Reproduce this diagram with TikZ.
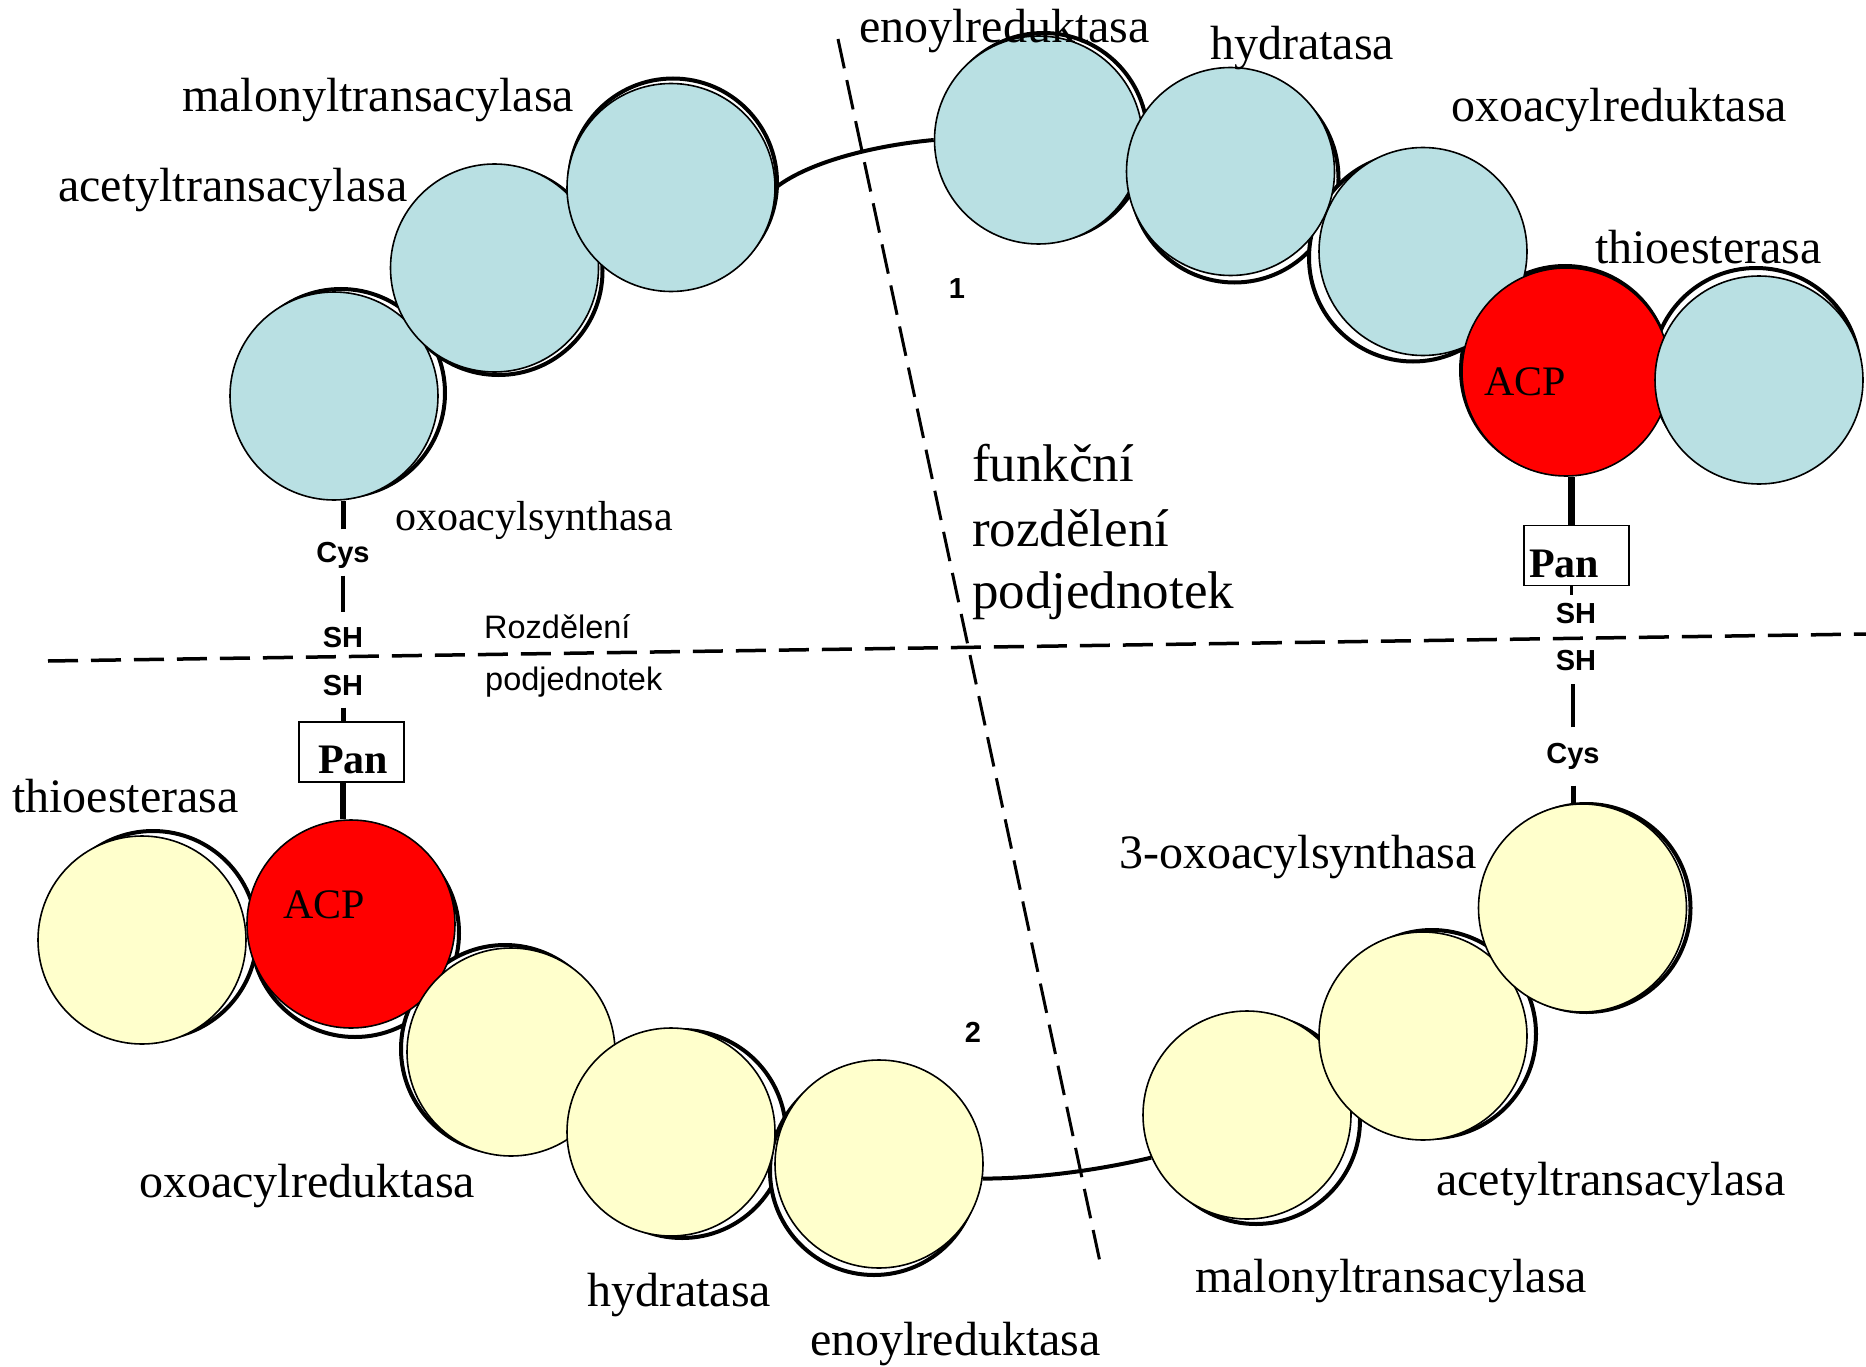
\documentclass[tikz,border=0pt]{standalone}
\usepackage{fontspec}
\setmainfont{Liberation Serif}
\newfontfamily\labsans{Liberation Sans}
\definecolor{enzblue}{RGB}{185,224,227}
\definecolor{enzyel}{RGB}{255,255,204}
\definecolor{acpred}{RGB}{255,0,0}
\tikzset{
  enz/.style={circle, minimum size=208pt, inner sep=0pt, draw=black, line width=1.6pt},
  blueenz/.style={enz, fill=enzblue},
  yelenz/.style={enz, fill=enzyel},
  acpenz/.style={enz, fill=acpred},
  shadowline/.style={draw=black, line width=4pt, fill=white},
  lab/.style={inner sep=0pt, anchor=base west, font=\fontsize{48}{58}\selectfont},
  smalllab/.style={inner sep=0pt, anchor=base west, font=\fontsize{42}{50}\selectfont},
  biglab/.style={inner sep=0pt, anchor=base west, font=\fontsize{53}{63}\selectfont},
  acplab/.style={inner sep=0pt, anchor=base west, font=\fontsize{42}{50}\selectfont},
  panbox/.style={draw=black, line width=1.5pt, fill=white, minimum width=105pt, minimum height=60pt, inner sep=0pt},
  panlab/.style={inner sep=0pt, anchor=base west, font=\fontsize{42}{50}\selectfont\bfseries},
  chemlab/.style={inner sep=0pt, anchor=center, text height=21pt, text depth=0pt, font=\fontsize{29}{33}\selectfont\labsans\bfseries},
  sanslab/.style={inner sep=0pt, anchor=base west, font=\fontsize{32.5}{38}\selectfont\labsans},
  numlab/.style={inner sep=0pt, anchor=center, text height=21pt, text depth=0pt, font=\fontsize{29}{33}\selectfont\labsans\bfseries},
  divider/.style={draw=black, line width=3.5pt, dash pattern=on 30pt off 13pt},
  linker/.style={draw=black, line width=4pt},
}
\begin{document}
\begin{tikzpicture}[x=1pt,y=-1pt]
\useasboundingbox (0,0) rectangle (1866,1367);
\fill[white] (0,0) rectangle (1866,1367);

% ---- shadows (scanned outlines) ----
\path[shadowline] (341,393) circle (104);
\path[shadowline] (498.5,271) circle (104);
\path[shadowline] (673,182.5) circle (104);
\path[shadowline] (1043.5,137) circle (104);
\path[shadowline] (1234.5,178.5) circle (104);
\path[shadowline] (1413,257.5) circle (104);
\path[shadowline] (1565,370) circle (104);
\path[shadowline] (1756,372) circle (104);

\path[shadowline] (153,935) circle (104);
\path[shadowline] (355,933) circle (104);
\path[shadowline] (505,1049) circle (104);
\path[shadowline] (682,1134) circle (104);
\path[shadowline] (874,1171) circle (104);
\path[shadowline] (1256,1120) circle (104);
\path[shadowline] (1432,1034) circle (104);
\path[shadowline] (1586.5,908) circle (104);

% ---- subunit 1 (blue) ----
\node[blueenz] (oxs1) at (334,396) {};
\node[blueenz] (ace1) at (494.5,268) {};
\node[blueenz] (mal1) at (671,187.5) {};
\node[blueenz] (eno1) at (1038.5,140) {};
\node[blueenz] (hyd1) at (1230.5,171.5) {};
\node[blueenz] (oxr1) at (1423,251.5) {};
\node[acpenz]  (acp1) at (1566,372) {};
\node[blueenz] (thi1) at (1759,380) {};

% ---- subunit 2 (yellow) ----
\node[yelenz] (thi2) at (142,940) {};
\node[acpenz] (acp2) at (351,924) {};
\node[yelenz] (oxr2) at (511,1052) {};
\node[yelenz] (hyd2) at (671,1132) {};
\node[yelenz] (eno2) at (879,1164) {};
\node[yelenz] (mal2) at (1247,1115) {};
\node[yelenz] (ace2) at (1423,1036) {};
\node[yelenz] (oxs2) at (1582.5,908) {};

% ---- connecting arcs ----
\draw[linker] (mal1.east) .. controls +(35,-27) and +(-55,5) .. (eno1.west);
\draw[linker] (eno2.-8) .. controls +(55,0) and +(-50,12) .. (mal2.204);

% ---- left chain ----
\node[chemlab] (cysL) at (343,552) {Cys};
\node[chemlab] (shL1) at (343,637) {SH};
\node[chemlab] (shL2) at (343,685) {SH};
\node[panbox] (panL) at (351.5,752) {};
\node[panlab] (panLt) at (318,773) {Pan};
\draw[line width=5pt, shorten <=12pt] (cysL.north) -- (cysL.north |- oxs1.south);
\draw[line width=4pt, shorten <=13pt, shorten >=14pt] (cysL.south) -- (shL1.north);
\draw[line width=5pt, shorten <=12pt] (shL2.south) -- (shL2.south |- panL.north);
\draw[line width=6pt] (shL2.south |- panL.south) -- (shL2.south |- acp2.north);

% ---- right chain ----
\coordinate (rch) at (1571,0);
\node[panbox] (panR) at (1576.5,555.5) {};
\node[panlab] (panRt) at (1529,577) {Pan};
\node[chemlab] (shR1) at (1576,613) {SH};
\node[chemlab] (shR2) at (1576,660) {SH};
\node[chemlab] (cysR) at (1573,753) {Cys};
\draw[line width=7pt] (rch |- panR.north) -- (rch |- acp1.south);
\draw[line width=3pt, shorten >=7pt] (rch |- panR.south) -- (rch |- shR1.north);
\draw[line width=3.5pt, shorten <=15pt, shorten >=13pt] (cysR.north) -- (cysR.north |- shR2.south);
\draw[line width=5pt, shorten <=22pt] (cysR.south) -- (cysR.south |- oxs2.north);

% ---- dividing dashed lines ----
\coordinate (hA) at (48,661);
\coordinate (hB) at (1866,634);
\coordinate (vA) at (838,39);
\coordinate (vB) at (1100,1262);
\draw[divider] (hA) -- (hB);
\draw[divider, line width=3pt, dash pattern=on 30pt off 12pt] (vA) -- (vB);

% ---- labels subunit 1 ----
\node[lab] (l1) at (58,202) {acetyltransacylasa};
\node[lab] (l2) at (182,112) {malonyltransacylasa};
\node[lab] (l3) at (859,43) {enoylreduktasa};
\node[lab] (l4) at (1210,60) {hydratasa};
\node[lab] (l5) at (1451,122) {oxoacylreduktasa};
\node[lab] (l6) at (1595,263) {thioesterasa};
\node[smalllab] (l7) at (395,530) {oxoacylsynthasa};
\node[acplab] (l8) at (1484,395) {ACP};

% ---- labels subunit 2 ----
\node[lab] (m1) at (12,812) {thioesterasa};
\node[acplab] (m2) at (283,918) {ACP};
\node[lab] (m3) at (139,1197) {oxoacylreduktasa};
\node[lab] (m4) at (587,1306) {hydratasa};
\node[lab] (m5) at (810,1355) {enoylreduktasa};
\node[lab] (m6) at (1195,1292) {malonyltransacylasa};
\node[lab] (m7) at (1436,1195) {acetyltransacylasa};
\node[lab] (m8) at (1119,868) {3-oxoacylsynthasa};

% ---- other texts ----
\node[biglab] (f1) at (972,481) {funkční};
\node[biglab] (f2) at (972,546) {rozdělení};
\node[biglab] (f3) at (972,608) {podjednotek};
\node[sanslab] (r1) at (484,638) {Rozdělení};
\node[sanslab] (r2) at (485,690) {podjednotek};
\node[numlab] (n1) at (957,288) {1};
\node[numlab] (n2) at (973,1032) {2};
\end{tikzpicture}
\end{document}
